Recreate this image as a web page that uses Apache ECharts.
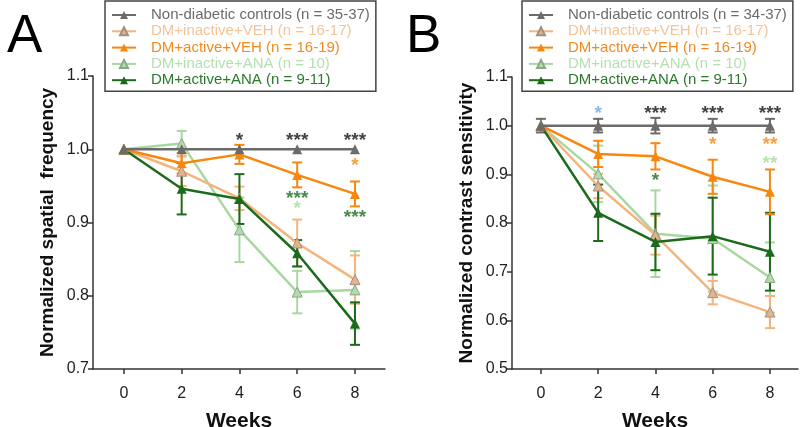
<!DOCTYPE html>
<html><head><meta charset="utf-8">
<script src="https://cdn.jsdelivr.net/npm/echarts@6/dist/echarts.min.js"></script>
<style>html,body{margin:0;padding:0;background:#fff}#c{width:800px;height:427px}</style>
</head><body><div id="c"></div>
<script>
const weeks = [0, 2, 4, 6, 8];
const xTicks = [0, 2, 4, 6, 8];

// Panel A: normalized spatial frequency (mean, error)
const A_ctrl = [1.0, 1.0, 1.0, 1.0, 1.0];
const A_ctrl_err = [0, 0, 0, 0, 0];
const A_inVEH = [1.0, 0.970, 0.933, 0.872, 0.822];
const A_inVEH_err = [0, 0.020, 0.016, 0.032, 0.033];
const A_acVEH = [1.0, 0.981, 0.993, 0.965, 0.939];
const A_acVEH_err = [0, 0.014, 0.013, 0.017, 0.017];
const A_inANA = [1.0, 1.008, 0.890, 0.805, 0.808];
const A_inANA_err = [0, 0.017, 0.044, 0.029, 0.053];
const A_acANA = [1.0, 0.946, 0.932, 0.858, 0.762];
const A_acANA_err = [0, 0.035, 0.034, 0.018, 0.029];

// Panel B: normalized contrast sensitivity (mean, error)
const B_ctrl = [1.0, 1.0, 1.0, 1.0, 1.0];
const B_ctrl_err = [0.014, 0.014, 0.016, 0.014, 0.014];
const B_inVEH = [1.0, 0.876, 0.775, 0.657, 0.617];
const B_inVEH_err = [0, 0.025, 0.040, 0.024, 0.033];
const B_acVEH = [1.0, 0.942, 0.937, 0.895, 0.864];
const B_acVEH_err = [0, 0.027, 0.027, 0.035, 0.046];
const B_inANA = [1.0, 0.901, 0.778, 0.768, 0.688];
const B_inANA_err = [0, 0.058, 0.089, 0.109, 0.072];
const B_acANA = [1.0, 0.821, 0.761, 0.773, 0.741];
const B_acANA_err = [0, 0.058, 0.058, 0.079, 0.080];

const namesA = ['Non-diabetic controls (n = 35-37)', 'DM+inactive+VEH (n = 16-17)', 'DM+active+VEH (n = 16-19)', 'DM+inactive+ANA (n = 10)', 'DM+active+ANA (n = 9-11)'];
const namesB = ['Non-diabetic controls (n = 34-37)', 'DM+inactive+VEH (n = 16-17)', 'DM+active+VEH (n = 16-19)', 'DM+inactive+ANA (n = 10)', 'DM+active+ANA (n = 9-11)'];

// significance marks: [week, value, text, colour-key]
const annA = [[4, 1.017, '*', 'k'], [6, 1.017, '***', 'k'], [8, 1.017, '***', 'k'], [8, 0.983, '*', 'acVEH'], [6, 0.938, '***', 'acANA'], [6, 0.924, '*', 'inANA'], [8, 0.912, '***', 'acANA']];
const annB = [[2, 1.033, '*', 'blue'], [4, 1.033, '***', 'k'], [6, 1.033, '***', 'k'], [8, 1.033, '***', 'k'], [4, 0.896, '*', 'acANA'], [6, 0.968, '*', 'acVEH'], [8, 0.968, '**', 'acVEH'], [8, 0.930, '**', 'inANA']];

const FONT = "'Liberation Sans', Arial, sans-serif";
const COL = {ctrl: '#6b6b6b', inVEH: '#f5b47c', acVEH: '#f7870d', inANA: '#a8d8a0', acANA: '#1c6b1c', k: '#111111', blue: '#6aa8e8'};
const TXT = {ctrl: '#6b6b6b', inVEH: '#f2c49a', acVEH: '#f08a1e', inANA: '#b6dfb0', acANA: '#2b7a2b'};
const MARK = {
  ctrl: {color: '#6b6b6b'},
  inVEH: {color: '#e3b38d', borderColor: '#a39080', borderWidth: 1},
  acVEH: {color: '#f7870d'},
  inANA: {color: '#b3d9ad', borderColor: '#8aa887', borderWidth: 1},
  acANA: {color: '#1c6b1c'}
};
const keys = ['ctrl', 'inVEH', 'acVEH', 'inANA', 'acANA'];
const drawOrder = ['inANA', 'inVEH', 'acANA', 'acVEH', 'ctrl'];

function errRenderer(color) {
  return function (params, api) {
    const x = api.value(0), y = api.value(1), e = api.value(2);
    if (!e) return null;
    const t = api.coord([x, y + e]), b = api.coord([x, y - e]);
    const hw = 5;
    const style = {stroke: color, lineWidth: 2, fill: null};
    return {type: 'group', children: [
      {type: 'line', shape: {x1: t[0], y1: t[1], x2: b[0], y2: b[1]}, style: style},
      {type: 'line', shape: {x1: t[0] - hw, y1: t[1], x2: t[0] + hw, y2: t[1]}, style: style},
      {type: 'line', shape: {x1: b[0] - hw, y1: b[1], x2: b[0] + hw, y2: b[1]}, style: style}
    ]};
  };
}

const panels = [
  {idx: 0, names: namesA, data: {ctrl: [A_ctrl, A_ctrl_err], inVEH: [A_inVEH, A_inVEH_err], acVEH: [A_acVEH, A_acVEH_err], inANA: [A_inANA, A_inANA_err], acANA: [A_acANA, A_acANA_err]}, ann: annA},
  {idx: 1, names: namesB, data: {ctrl: [B_ctrl, B_ctrl_err], inVEH: [B_inVEH, B_inVEH_err], acVEH: [B_acVEH, B_acVEH_err], inANA: [B_inANA, B_inANA_err], acANA: [B_acANA, B_acANA_err]}, ann: annB}
];

const series = [];
panels.forEach(p => {
  drawOrder.forEach((k, j) => {
    const [vals, errs] = p.data[k];
    series.push({
      type: 'custom', xAxisIndex: p.idx, yAxisIndex: p.idx, silent: true, z: 2 + j,
      renderItem: errRenderer(COL[k]),
      encode: {x: 0, y: 1},
      data: weeks.map((w, i) => [w, vals[i], errs[i]])
    });
  });
  drawOrder.forEach((k, j) => {
    const [vals] = p.data[k];
    series.push({
      type: 'line', name: p.names[keys.indexOf(k)], xAxisIndex: p.idx, yAxisIndex: p.idx, z: 10 + j,
      symbol: 'triangle', symbolSize: 10, showSymbol: true,
      lineStyle: {color: COL[k], width: 2.5},
      itemStyle: Object.assign({opacity: 1}, MARK[k]),
      emphasis: {disabled: true},
      data: weeks.map((w, i) => [w, vals[i]])
    });
  });
  series.push({
    type: 'scatter', xAxisIndex: p.idx, yAxisIndex: p.idx, silent: true, z: 30,
    symbol: 'circle', symbolSize: 2, itemStyle: {color: 'rgba(0,0,0,0)'},
    label: {show: true, position: 'inside', fontFamily: FONT, fontSize: 19, fontWeight: 'bold', offset: [0, 4]},
    data: p.ann.map(a => ({value: [a[0], a[1]], label: {show: true, formatter: a[2], color: COL[a[3]], fontFamily: FONT, fontSize: 19, fontWeight: 'bold'}}))
  });
});

function legend(names, left) {
  return {
    orient: 'vertical', left: left, top: 1, padding: [6, 6, 3, 6],
    borderColor: '#444', borderWidth: 1.5, backgroundColor: '#fff',
    itemWidth: 24, itemHeight: 10, itemGap: 0.3, selectedMode: false,
    textStyle: {fontFamily: FONT, fontSize: 15, lineHeight: 16, padding: [0, 0, 0, 10]},
    data: names.map((n, i) => ({name: n, textStyle: {color: TXT[keys[i]], fontFamily: FONT, fontSize: 15, lineHeight: 16, padding: [0, 0, 0, 10]}}))
  };
}

const axisLineStyle = {color: '#333', width: 1.5};
function xAxis(idx, min, max) {
  return {
    type: 'value', gridIndex: idx, min: min, max: max,
    name: 'Weeks', nameLocation: 'middle', nameGap: 42, nameMoveOverlap: false,
    nameTextStyle: {fontFamily: FONT, fontSize: 21, fontWeight: 'bold', color: '#111'},
    axisLine: {show: true, onZero: false, lineStyle: axisLineStyle},
    axisTick: {show: true, length: 5, lineStyle: axisLineStyle, customValues: xTicks},
    axisLabel: {fontFamily: FONT, fontSize: 16, color: '#222', margin: 17, customValues: xTicks},
    splitLine: {show: false}
  };
}
function yAxis(idx, min, max, name) {
  return {
    type: 'value', gridIndex: idx, min: min, max: max, interval: 0.1,
    name: name, nameLocation: 'middle', nameGap: 36, nameMoveOverlap: false,
    nameTextStyle: {fontFamily: FONT, fontSize: 19, fontWeight: 'bold', color: '#111'},
    axisLine: {show: true, onZero: false, lineStyle: axisLineStyle},
    axisTick: {show: true, length: 5, lineStyle: axisLineStyle},
    axisLabel: {fontFamily: FONT, fontSize: 16, color: '#222', margin: 4, formatter: v => v.toFixed(1)},
    splitLine: {show: false}
  };
}

const option = {
  animation: false,
  backgroundColor: '#fff',
  grid: [
    {left: 93, top: 76, width: 292, height: 293, containLabel: false, outerBoundsMode: 'none'},
    {left: 512, top: 77, width: 286, height: 292, containLabel: false, outerBoundsMode: 'none'}
  ],
  xAxis: [xAxis(0, -1.07, 9.04), xAxis(1, -1.01, 8.98)],
  yAxis: [yAxis(0, 0.7, 1.1, 'Normalized spatial  frequency'), yAxis(1, 0.5, 1.1, 'Normalized contrast sensitivity')],
  legend: [legend(namesA, 105), legend(namesB, 522)],
  graphic: [
    {type: 'text', left: 7, top: 11, style: {text: 'A', font: "53px 'Liberation Sans', Arial, sans-serif", fill: '#000'}},
    {type: 'text', left: 406, top: 11, style: {text: 'B', font: "53px 'Liberation Sans', Arial, sans-serif", fill: '#000'}}
  ],
  series: series
};
const chart = echarts.init(document.getElementById('c'));
chart.setOption(option);
</script></body></html>
